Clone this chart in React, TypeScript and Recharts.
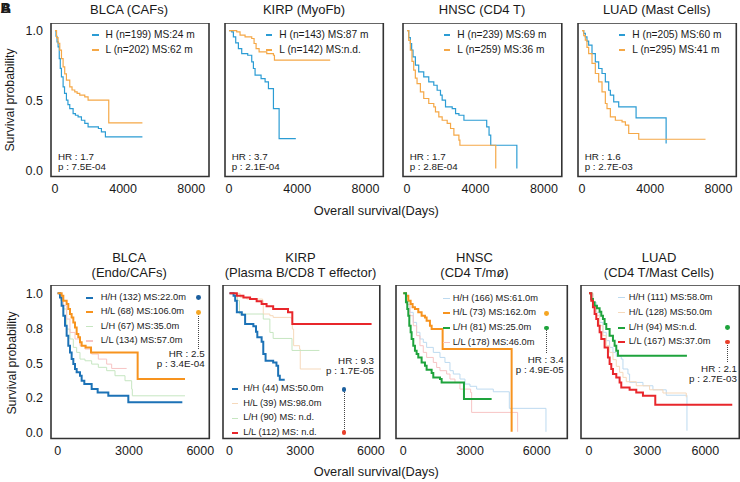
import React from 'react';
import { LineChart, Line, XAxis, YAxis, ReferenceArea } from 'recharts';

const FONT = '"Liberation Sans", Arial, Helvetica, sans-serif';
type Pt = [number, number];

// ---------- TOP ROW (single signature, H vs L) ----------
const T_BLCA_H: Pt[] = [[0,1],[60,0.96],[120,0.92],[182,0.884],[250,0.8],[310,0.73],[378,0.669],[476,0.597],[560,0.55],[671,0.502],[760,0.47],[867,0.442],[1063,0.406],[1200,0.394],[1356,0.382],[1552,0.358],[1750,0.335],[1943,0.311],[2550,0.299],[2726,0.275],[2961,0.239],[5133,0.239]];
const T_BLCA_L: Pt[] = [[0,1],[90,0.95],[180,0.91],[280,0.86],[380,0.8],[476,0.741],[570,0.69],[671,0.645],[867,0.597],[1000,0.575],[1161,0.562],[1300,0.55],[1454,0.538],[1748,0.526],[1943,0.502],[3157,0.339],[5133,0.339]];
const T_KIRP_H: Pt[] = [[0,1],[158,0.992],[256,0.956],[393,0.913],[550,0.872],[745,0.836],[1097,0.824],[1332,0.777],[1430,0.729],[1528,0.681],[1880,0.657],[2115,0.633],[2311,0.585],[2604,0.442],[2937,0.227],[3916,0.227]];
const T_KIRP_L: Pt[] = [[0,1],[452,0.992],[647,0.968],[941,0.956],[1332,0.944],[1469,0.908],[1587,0.872],[1763,0.848],[2213,0.836],[2604,0.824],[2663,0.789],[5931,0.789]];
const T_HNSC_H: Pt[] = [[0,1],[100,0.95],[194,0.908],[270,0.86],[351,0.812],[488,0.753],[683,0.705],[977,0.669],[1270,0.633],[1564,0.609],[1760,0.573],[1955,0.538],[2053,0.502],[2249,0.454],[2640,0.442],[2836,0.406],[3032,0.394],[3325,0.358],[4656,0.311],[4793,0.251],[4891,0.179],[6417,0.012]];
const T_HNSC_L: Pt[] = [[0,1],[100,0.93],[194,0.86],[290,0.78],[390,0.717],[486,0.66],[586,0.621],[781,0.562],[977,0.514],[1270,0.478],[1564,0.454],[1662,0.418],[1858,0.382],[2053,0.358],[2347,0.335],[2543,0.299],[2738,0.251],[3032,0.215],[3090,0.179],[5184,0.012]];
const T_LUAD_H: Pt[] = [[0,1],[100,0.98],[194,0.956],[290,0.925],[390,0.896],[586,0.836],[781,0.777],[977,0.729],[1173,0.693],[1368,0.633],[1564,0.573],[1662,0.538],[1858,0.49],[2151,0.454],[3169,0.375],[4930,0.191]];
const T_LUAD_L: Pt[] = [[0,1],[100,0.965],[194,0.932],[290,0.88],[390,0.836],[586,0.765],[781,0.693],[977,0.633],[1173,0.562],[1368,0.478],[1466,0.442],[1662,0.382],[1955,0.358],[2347,0.346],[2543,0.323],[2738,0.263],[3325,0.222],[7239,0.222]];

// ---------- BOTTOM ROW (two signatures, four groups) ----------
const B_BLCA_HH: Pt[] = [[0,1],[100,0.971],[170,0.912],[240,0.84],[310,0.768],[380,0.697],[450,0.625],[520,0.577],[590,0.529],[661,0.493],[731,0.458],[801,0.434],[941,0.41],[1011,0.374],[1123,0.35],[1432,0.314],[1684,0.29],[2133,0.267],[2974,0.219],[5245,0.219]];
const B_BLCA_HL: Pt[] = [[0,1],[170,0.983],[240,0.948],[380,0.924],[450,0.888],[520,0.852],[590,0.828],[661,0.792],[731,0.756],[801,0.709],[871,0.685],[941,0.649],[1011,0.625],[1179,0.613],[1404,0.577],[3366,0.386],[5357,0.386]];
const B_BLCA_LH: Pt[] = [[0,1],[120,0.95],[240,0.888],[380,0.744],[520,0.673],[661,0.613],[801,0.577],[941,0.529],[1151,0.517],[1432,0.493],[1712,0.47],[2063,0.446],[2413,0.41],[2834,0.374],[3114,0.314],[3142,0.266],[5357,0.266]];
const B_BLCA_LL: Pt[] = [[0,1],[120,0.96],[240,0.912],[380,0.816],[520,0.72],[731,0.673],[941,0.625],[1151,0.601],[1432,0.565],[1712,0.529],[2063,0.493],[2273,0.462],[2904,0.462]];

const B_KIRP_HH: Pt[] = [[0,1],[170,0.983],[240,0.948],[310,0.864],[520,0.847],[661,0.78],[1011,0.764],[1123,0.725],[1179,0.685],[1362,0.654],[1432,0.565],[1530,0.517],[1852,0.505],[1992,0.482],[2063,0.41],[2133,0.381],[2343,0.381]];
const B_KIRP_HL: Pt[] = [[0,1],[450,0.971],[731,0.959],[1404,0.947],[1432,0.852],[1712,0.84],[1852,0.828],[2623,0.816],[2665,0.744],[2721,0.625],[2974,0.601],[3002,0.458],[3885,0.458]];
const B_KIRP_LH: Pt[] = [[0,1],[240,0.983],[338,0.948],[422,0.852],[1432,0.816],[1712,0.72],[1852,0.677],[2651,0.591],[3815,0.591]];
const B_KIRP_LL: Pt[] = [[0,1],[310,0.983],[590,0.971],[871,0.959],[1151,0.943],[1362,0.924],[1572,0.907],[1852,0.888],[2483,0.864],[2665,0.78],[6030,0.78]];

const B_HNSC_HH: Pt[] = [[0,1],[150,0.948],[300,0.864],[449,0.792],[599,0.721],[749,0.673],[899,0.649],[1049,0.613],[1349,0.577],[1649,0.541],[1873,0.505],[2098,0.446],[2248,0.422],[2548,0.386],[2773,0.35],[2998,0.334],[3298,0.314],[4047,0.295],[4767,0.176],[6415,0.008]];
const B_HNSC_HL: Pt[] = [[0,1],[120,0.983],[225,0.948],[330,0.924],[419,0.9],[524,0.888],[674,0.864],[824,0.84],[974,0.828],[1049,0.804],[1199,0.768],[1274,0.744],[1769,0.601],[4871,0.008]];
const B_HNSC_LH: Pt[] = [[0,1],[120,0.936],[180,0.888],[225,0.84],[270,0.768],[330,0.721],[374,0.673],[449,0.625],[524,0.589],[599,0.565],[674,0.541],[824,0.505],[974,0.481],[1049,0.453],[1274,0.429],[1349,0.398],[1649,0.386],[1724,0.362],[2728,0.243],[3972,0.243]];
const B_HNSC_LL: Pt[] = [[0,1],[150,0.92],[300,0.84],[449,0.768],[599,0.697],[749,0.625],[899,0.577],[1049,0.541],[1349,0.505],[1499,0.469],[1649,0.446],[1949,0.422],[2098,0.386],[2323,0.362],[2548,0.314],[3028,0.29],[3073,0.147],[5141,0.008]];

const B_LUAD_HH: Pt[] = [[0,1],[204,0.936],[376,0.864],[548,0.792],[719,0.721],[891,0.661],[1063,0.613],[1235,0.577],[1407,0.548],[1664,0.529],[1750,0.458],[2008,0.422],[2094,0.362],[2781,0.338],[3296,0.309],[3983,0.27],[5049,0.016]];
const B_LUAD_HL: Pt[] = [[0,1],[204,0.912],[376,0.84],[548,0.768],[719,0.697],[891,0.625],[1063,0.577],[1235,0.525],[1407,0.477],[1578,0.434],[1750,0.398],[1922,0.367],[2437,0.338],[3124,0.309],[3812,0.286],[5014,0.255]];
const B_LUAD_LH: Pt[] = [[0,1],[118,0.96],[204,0.936],[290,0.912],[410,0.893],[548,0.869],[634,0.84],[719,0.816],[805,0.78],[891,0.744],[1063,0.697],[1235,0.661],[1321,0.625],[1407,0.589],[1493,0.553],[5049,0.553]];
const B_LUAD_LL: Pt[] = [[0,1],[118,0.948],[204,0.9],[290,0.852],[376,0.816],[462,0.768],[548,0.721],[634,0.673],[805,0.613],[977,0.541],[1063,0.493],[1149,0.458],[1235,0.422],[1407,0.398],[1578,0.362],[1664,0.326],[2094,0.309],[2437,0.29],[2781,0.266],[3417,0.202],[7385,0.202]];

// ---------- ticks & labels ----------
const TOP_X_TICKS = [0, 4000, 8000];
const BOT_X_TICKS = [0, 3000, 6000];
const TOP_Y_TICKS = [0, 0.5, 1];
const TOP_Y_LABELS = ['0.0', '0.5', '1.0'];
const BOT_Y_TICKS = [0, 0.25, 0.5, 0.75, 1];
const BOT_Y_LABELS = ['0.0', '0.2', '0.5', '0.8', '1.0'];

const TOP_TITLES = ['BLCA (CAFs)', 'KIRP (MyoFb)', 'HNSC (CD4 T)', 'LUAD (Mast Cells)'];
const TOP_LEGENDS = [
  ['H (n=199) MS:24 m', 'L (n=202) MS:62 m'],
  ['H (n=143) MS:87 m', 'L (n=142) MS:n.d.'],
  ['H (n=239) MS:69 m', 'L (n=259) MS:36 m'],
  ['H (n=205) MS:60 m', 'L (n=295) MS:41 m'],
];
const TOP_HR = [['HR : 1.7', 'p : 7.5E-04'], ['HR : 3.7', 'p : 2.1E-04'], ['HR : 1.7', 'p : 2.8E-04'], ['HR : 1.6', 'p : 2.7E-03']];

const BOT_TITLES = [['BLCA', '(Endo/CAFs)'], ['KIRP', '(Plasma B/CD8 T effector)'], ['HNSC', '(CD4 T/mø)'], ['LUAD', '(CD4 T/Mast Cells)']];
const BOT_LEGENDS = [
  ['H/H (132) MS:22.0m', 'H/L (68) MS:106.0m', 'L/H (67) MS:35.0m', 'L/L (134) MS:57.0m'],
  ['H/H (44) MS:50.0m', 'H/L (39) MS:98.0m', 'L/H (90) MS: n.d.', 'L/L (112) MS: n.d.'],
  ['H/H (166) MS:61.0m', 'H/L (73) MS:162.0m', 'L/H (81) MS:25.0m', 'L/L (178) MS:46.0m'],
  ['H/H (111) MS:58.0m', 'H/L (128) MS:50.0m', 'L/H (94) MS:n.d.', 'L/L (167) MS:37.0m'],
];
const BOT_HR = [['HR : 2.5', 'p : 3.4E-04'], ['HR : 9.3', 'p : 1.7E-05'], ['HR : 3.4', 'p : 4.9E-05'], ['HR : 2.1', 'p : 2.7E-03']];

// ---------- styles ----------
const TOP_BLUE = '#2b9cd4';
const TOP_ORANGE = '#f5a847';
const C_HH = '#1c72b6', C_HL = '#f7931e', C_LH = '#1ea33c', C_LL = '#e8262b';
const P_HH = '#bddaf0', P_HL = '#f6d9bb', P_LH = '#c6e6c1', P_LL = '#f7c4c4';

const toData = (pts: Pt[]) => pts.map(([t, s]) => ({ t, s }));

type Series = { pts: Pt[]; color: string; w: number };

function KM({ box, xDomain, yDomain, xTicks, yTicks, yLabels, showY, series }: any) {
  const YW = 44, XH = 26, RM = 18;
  const tickStyle = { fontSize: 12.5, fill: '#1a1a1a', fontFamily: FONT };
  return (
    <div style={{ position: 'absolute', left: box[0] - YW, top: box[1] }}>
      <LineChart width={box[2] + YW + RM} height={box[3] + XH} margin={{ top: 0, right: RM, bottom: 0, left: 0 }}>
        <XAxis type="number" dataKey="t" domain={xDomain} ticks={xTicks} allowDataOverflow axisLine={false} tickLine={false} interval={0} height={XH} tick={tickStyle} />
        <YAxis type="number" domain={yDomain} ticks={yTicks} allowDataOverflow axisLine={false} tickLine={false} interval={0} width={YW}
          tick={showY ? tickStyle : false} tickFormatter={(v: number) => yLabels[yTicks.indexOf(v)] ?? ''} />
        <ReferenceArea x1={xDomain[0]} x2={xDomain[1]} y1={yDomain[0]} y2={yDomain[1]} fill="none" fillOpacity={0} stroke="#333" strokeWidth={1.6} ifOverflow="visible" />
        {series.map((s: Series, i: number) => (
          <Line key={i} data={toData(s.pts)} dataKey="s" type="stepAfter" stroke={s.color} strokeWidth={s.w} dot={false} activeDot={false} isAnimationActive={false} />
        ))}
      </LineChart>
    </div>
  );
}

function Txt({ x, y, anchor = 'middle', size = 10, weight = 400, rotate = 0, children }: any) {
  const tx = anchor === 'start' ? '0' : anchor === 'end' ? '-100%' : '-50%';
  return (
    <div style={{ position: 'absolute', left: x, top: y, transform: `translate(${tx},-50%)${rotate ? ` rotate(${rotate}deg)` : ''}`,
      fontFamily: FONT, fontSize: size, fontWeight: weight, lineHeight: 1, whiteSpace: 'nowrap', color: '#1a1a1a' }}>{children}</div>
  );
}

function Mark({ x, y, w, h, color }: any) {
  return <div style={{ position: 'absolute', left: x, top: y - h / 2, width: w, height: h, background: color }} />;
}
function Dot({ x, y, color }: any) {
  return <div style={{ position: 'absolute', left: x - 2.4, top: y - 2.4, width: 4.8, height: 4.8, borderRadius: '50%', background: color }} />;
}
function VDots({ x, y1, y2 }: any) {
  return <div style={{ position: 'absolute', left: x - 0.5, top: y1, height: y2 - y1, width: 0, borderLeft: '1px dotted #444' }} />;
}

const TOP_BOXES = [[51, 22.5, 158, 153.5], [224.7, 22.5, 158.3, 153.5], [402.7, 22.5, 158.8, 153.5], [577.7, 22.5, 158.3, 153.5]];
const TOP_TITLE_X = [129, 304, 482, 656.7];
const TOP_XDOM = [-235, 9043];
const TOP_YDOM = [-0.045, 1.055];
const TOP_SERIES: Pt[][][] = [[T_BLCA_H, T_BLCA_L], [T_KIRP_H, T_KIRP_L], [T_HNSC_H, T_HNSC_L], [T_LUAD_H, T_LUAD_L]];

const BOT_BOXES = [[50.7, 284.5, 158.3, 153.5], [222.7, 284.5, 156.8, 153.5], [395.7, 284.5, 171.3, 153.5], [580.7, 284.5, 158.3, 153.5]];
const BOT_XDOMS = [[-278, 6379], [-278, 6379], [-328, 7374], [-412, 7748]];
const BOT_YDOM = [-0.04, 1.06];
const BOT_TITLE_X = [129.2, 300.5, 474.5, 659];
const BOT_SERIES: Series[][] = [
  [{ pts: B_BLCA_LH, color: P_LH, w: 1 }, { pts: B_BLCA_LL, color: P_LL, w: 1 }, { pts: B_BLCA_HH, color: C_HH, w: 2 }, { pts: B_BLCA_HL, color: C_HL, w: 2 }],
  [{ pts: B_KIRP_HL, color: P_HL, w: 1 }, { pts: B_KIRP_LH, color: P_LH, w: 1 }, { pts: B_KIRP_HH, color: C_HH, w: 2 }, { pts: B_KIRP_LL, color: C_LL, w: 2 }],
  [{ pts: B_HNSC_HH, color: P_HH, w: 1 }, { pts: B_HNSC_LL, color: P_LL, w: 1 }, { pts: B_HNSC_HL, color: C_HL, w: 2 }, { pts: B_HNSC_LH, color: C_LH, w: 2 }],
  [{ pts: B_LUAD_HH, color: P_HH, w: 1 }, { pts: B_LUAD_HL, color: P_HL, w: 1 }, { pts: B_LUAD_LH, color: C_LH, w: 2 }, { pts: B_LUAD_LL, color: C_LL, w: 2 }],
];
// legend marker colours per group (H/H, H/L, L/H, L/L) per panel, and thickness
const BOT_MARKS = [
  [[C_HH, 2.2], [C_HL, 2.2], [P_LH, 1.2], [P_LL, 1.2]],
  [[C_HH, 2.2], [P_HL, 1.2], [P_LH, 1.2], [C_LL, 2.2]],
  [[P_HH, 1.2], [C_HL, 2.2], [C_LH, 2.2], [P_LL, 1.2]],
  [[P_HH, 1.2], [P_HL, 1.2], [C_LH, 2.2], [C_LL, 2.2]],
];
// layout of bottom annotations (offsets from box left/top)
const BOT_LAYOUT = [
  { mx: 35.6, mw: 7, tx: 50, rows: [13.3, 27.7, 42.1, 56.5], dx: 148, dots: [0, 1], dotCol: ['#1c5f9e', '#f5a623'], line: [1, 64.2], hrR: 154, hrY: [69.2, 79.2] },
  { mx: 9, mw: 6.5, tx: 20.6, rows: [104.8, 119.3, 133.8, 148.3], dx: 121.3, dots: [0, 3], dotCol: ['#1c5f9e', '#e8402b'], line: [0, 148.3], hrR: 151.3, hrY: [76.8, 86.8] },
  { mx: 47.3, mw: 7, tx: 57, rows: [14.2, 28.8, 43.4, 58], dx: 150.6, dots: [1, 2], dotCol: ['#f5a623', '#1ea33c'], line: [2, 68.2], hrR: 168, hrY: [75.8, 85.8] },
  { mx: 37, mw: 7.5, tx: 48, rows: [13.2, 28.2, 43.2, 57.5], dx: 147, dots: [2, 3], dotCol: ['#1ea33c', '#e8402b'], line: [3, 77.5], hrR: 156.3, hrY: [84.2, 94.2] },
];

export default function App() {
  return (
    <div style={{ position: 'absolute', left: 0, top: 0, width: 740, height: 482, background: '#fff', overflow: 'hidden' }}>
      <Txt x={0.5} y={8.3} anchor="start" size={14.5} weight={700}>A</Txt>
      <Txt x={0.5} y={8.3} anchor="start" size={14.5} weight={700}>B</Txt>

      {TOP_BOXES.map((b, i) => (
        <KM key={'t' + i} box={b} xDomain={TOP_XDOM} yDomain={TOP_YDOM} xTicks={TOP_X_TICKS} yTicks={TOP_Y_TICKS} yLabels={TOP_Y_LABELS} showY={i === 0}
          series={[{ pts: TOP_SERIES[i][0], color: TOP_BLUE, w: 1.2 }, { pts: TOP_SERIES[i][1], color: TOP_ORANGE, w: 1.2 }]} />
      ))}
      {TOP_BOXES.map((b, i) => (
        <React.Fragment key={'ta' + i}>
          <Txt x={TOP_TITLE_X[i]} y={8.5} size={13}>{TOP_TITLES[i]}</Txt>
          <Mark x={b[0] + 41} y={b[1] + 12.5} w={6.5} h={1.4} color={TOP_BLUE} />
          <Mark x={b[0] + 41} y={b[1] + 27.5} w={6.5} h={1.4} color={TOP_ORANGE} />
          <Txt x={b[0] + 54.6} y={b[1] + 12.5} anchor="start" size={10.2}>{TOP_LEGENDS[i][0]}</Txt>
          <Txt x={b[0] + 54.6} y={b[1] + 27.5} anchor="start" size={10.2}>{TOP_LEGENDS[i][1]}</Txt>
          <Txt x={b[0] + 7} y={b[1] + 134.2} anchor="start" size={9.8}>{TOP_HR[i][0]}</Txt>
          <Txt x={b[0] + 7} y={b[1] + 144.2} anchor="start" size={9.8}>{TOP_HR[i][1]}</Txt>
        </React.Fragment>
      ))}

      {BOT_BOXES.map((b, i) => (
        <KM key={'b' + i} box={b} xDomain={BOT_XDOMS[i]} yDomain={BOT_YDOM} xTicks={BOT_X_TICKS} yTicks={BOT_Y_TICKS} yLabels={BOT_Y_LABELS} showY={i === 0}
          series={BOT_SERIES[i]} />
      ))}
      {BOT_BOXES.map((b, i) => {
        const L = BOT_LAYOUT[i];
        return (
          <React.Fragment key={'ba' + i}>
            <Txt x={BOT_TITLE_X[i]} y={256.7} size={13}>{BOT_TITLES[i][0]}</Txt>
            <Txt x={BOT_TITLE_X[i]} y={271.7} size={13}>{BOT_TITLES[i][1]}</Txt>
            {BOT_LEGENDS[i].map((lab, r) => (
              <React.Fragment key={r}>
                <Mark x={b[0] + L.mx} y={b[1] + L.rows[r]} w={L.mw} h={BOT_MARKS[i][r][1]} color={BOT_MARKS[i][r][0]} />
                <Txt x={b[0] + L.tx} y={b[1] + L.rows[r]} anchor="start" size={9.3}>{lab}</Txt>
              </React.Fragment>
            ))}
            <VDots x={b[0] + L.dx} y1={b[1] + L.rows[L.line[0]]} y2={b[1] + L.line[1]} />
            <Dot x={b[0] + L.dx} y={b[1] + L.rows[L.dots[0]]} color={L.dotCol[0]} />
            <Dot x={b[0] + L.dx} y={b[1] + L.rows[L.dots[1]]} color={L.dotCol[1]} />
            <Txt x={b[0] + L.hrR} y={b[1] + L.hrY[0]} anchor="end" size={9.8}>{BOT_HR[i][0]}</Txt>
            <Txt x={b[0] + L.hrR} y={b[1] + L.hrY[1]} anchor="end" size={9.8}>{BOT_HR[i][1]}</Txt>
          </React.Fragment>
        );
      })}

      <Txt x={10} y={100} size={12.3} rotate={-90}>Survival probability</Txt>
      <Txt x={11.7} y={363} size={12.3} rotate={-90}>Survival probability</Txt>
      <Txt x={376.3} y={211} size={12.8}>Overall survival(Days)</Txt>
      <Txt x={376.3} y={472} size={12.8}>Overall survival(Days)</Txt>
    </div>
  );
}
